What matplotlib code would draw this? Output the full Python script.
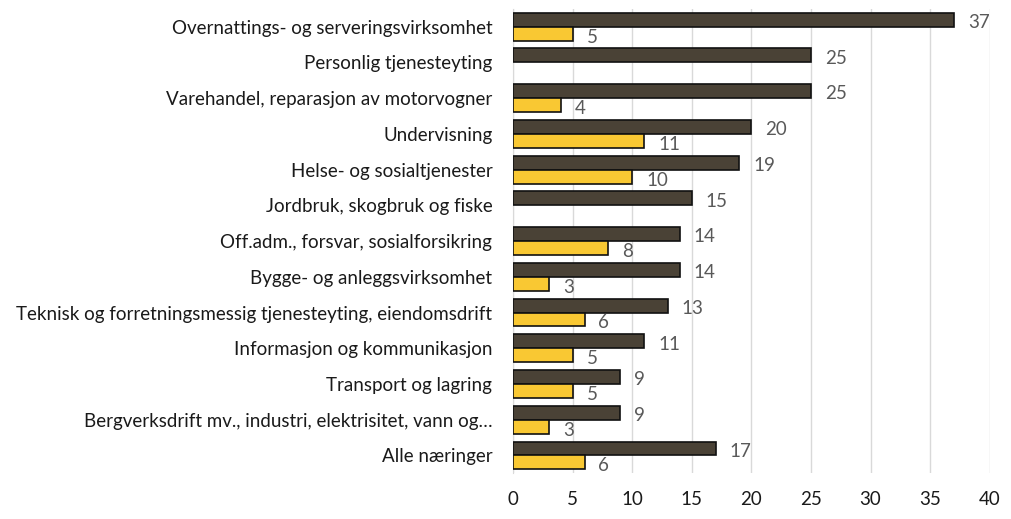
import numpy as np
import matplotlib
matplotlib.use("Agg")
import matplotlib.pyplot as plt

categories = [
    "Overnattings- og serveringsvirksomhet",
    "Personlig tjenesteyting",
    "Varehandel, reparasjon av motorvogner",
    "Undervisning",
    "Helse- og sosialtjenester",
    "Jordbruk, skogbruk og fiske",
    "Off.adm., forsvar, sosialforsikring",
    "Bygge- og anleggsvirksomhet",
    "Teknisk og forretningsmessig tjenesteyting, eiendomsdrift",
    "Informasjon og kommunikasjon",
    "Transport og lagring",
    "Bergverksdrift mv., industri, elektrisitet, vann og\u2026",
    "Alle næringer",
]
series_dark = [37, 25, 25, 20, 19, 15, 14, 14, 13, 11, 9, 9, 17]
series_yellow = [5, None, 4, 11, 10, None, 8, 3, 6, 5, 5, 3, 6]
x_ticks = [0, 5, 10, 15, 20, 25, 30, 35, 40]

plt.rcParams['font.family'] = ['Lato', 'DejaVu Sans']

fig = plt.figure(figsize=(10.12, 5.19), dpi=100)
ax = fig.add_axes([0.507, 0.088, 0.471, 0.895])

dark_c = "#4a4236"
yel_c = "#f9c833"
h = 0.39
y = np.arange(len(categories))

ax.barh(y - h / 2, series_dark, height=h, color=dark_c, edgecolor="#111111", linewidth=1.2, zorder=3)
yv = [v if v is not None else 0 for v in series_yellow]
ymask = [v is not None for v in series_yellow]
ax.barh(y[ymask] + h / 2, np.array(yv)[ymask], height=h, color=yel_c, edgecolor="#111111", linewidth=1.2, zorder=3)

fs = 13.5
for i, v in enumerate(series_dark):
    ax.annotate(str(v), (v, y[i] - h / 2), xytext=(10, -2), textcoords="offset points",
                va="center", ha="left", fontsize=fs, color="#595959")
for i, v in enumerate(series_yellow):
    if v is not None:
        ax.annotate(str(v), (v, y[i] + h / 2), xytext=(10, -2.5), textcoords="offset points",
                    va="center", ha="left", fontsize=fs, color="#595959")

ax.set_xlim(0, 40)
ax.set_ylim(len(categories) - 0.5, -0.5)
ax.set_xticks(x_ticks)
ax.set_yticks(y)
ax.set_yticklabels(categories, fontsize=fs, color="#1a1a1a")
ax.tick_params(axis="x", labelsize=fs, colors="#1a1a1a", length=0, pad=13)
ax.tick_params(axis="y", length=0, pad=15)
ax.grid(axis="x", color="#d9d9d9", linewidth=1, zorder=0)
for s in ["top", "right", "bottom"]:
    ax.spines[s].set_visible(False)
ax.spines["left"].set_color("#d9d9d9")

fig.savefig("out.png", dpi=100)
